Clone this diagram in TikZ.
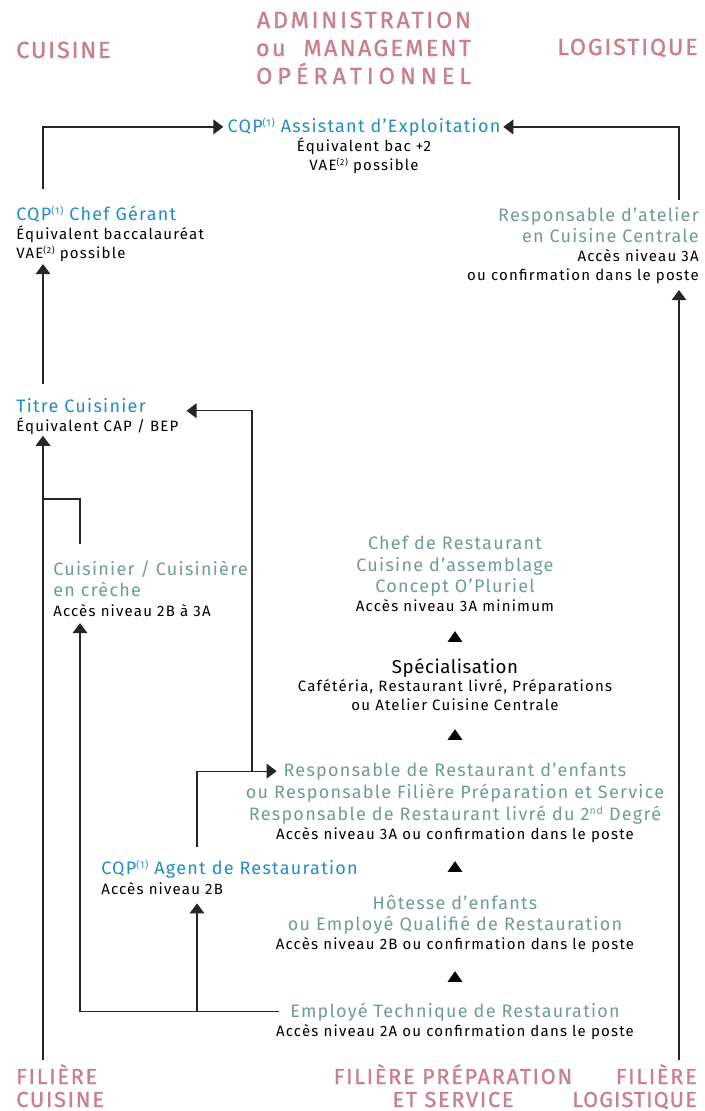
\documentclass[tikz,border=0pt]{standalone}
\usepackage{fontspec}
\setmainfont{Fira Sans}
\newfontfamily\headfam{Fira Sans}[FakeBold=1.2]
\usetikzlibrary{arrows.meta,positioning,shapes.geometric}

\definecolor{rosehd}{RGB}{201,128,140}
\definecolor{cqpblue}{RGB}{34,141,196}
\definecolor{sage}{RGB}{111,155,150}

\newcommand\headtxt[1][8]{\color{rosehd}\headfam\fontsize{17.5}{21}\selectfont\addfontfeatures{LetterSpace=#1}}
\newcommand\filtxt[1][8]{\color{rosehd}\headfam\fontsize{16.25}{17.25}\selectfont\addfontfeatures{LetterSpace=#1}}
\newcommand\bluetxt{\color{cqpblue}\fontsize{13.5}{14.25}\selectfont\addfontfeatures{LetterSpace=7}}
\newcommand\sagetxt{\color{sage}\fontsize{13.5}{14.25}\selectfont\addfontfeatures{LetterSpace=7}}
\newcommand\plaintxt{\color{black}\fontsize{11.25}{14.25}\selectfont\addfontfeatures{LetterSpace=8}}
\newcommand\refmark[1]{\raisebox{4pt}{\fontsize{7.5}{7.5}\selectfont(#1)}}
\newcommand\smallmark[1]{\raisebox{3.3pt}{\fontsize{6.5}{6.5}\selectfont(#1)}}

\begin{document}
\begin{tikzpicture}[x=0.75pt, y=-0.75pt,
    every node/.style={inner sep=0pt, font=\fontsize{11.25}{14.25}\selectfont},
    headnode/.style={font=\fontsize{17.5}{21}\selectfont},
    filnode/.style={font=\fontsize{16.25}{17.25}\selectfont},
    link/.style={draw=black!85, line width=0.9pt},
    arr/.style={link, -{Triangle[length=7.5pt,width=11pt]}},
    uptri/.style={isosceles triangle, isosceles triangle apex angle=70,
      shape border rotate=90, fill=black, minimum size=8pt}]
  \useasboundingbox (0,0) rectangle (704,1111);

  \node[headnode, anchor=base west] (cuisinehd) at (16,58) {\headtxt CUISINE};
  \node[headnode, anchor=base, align=right] (adminhd) at (363.5,84)
    {\headtxt[12] ADMINISTRATION\\\headtxt[10] ou\hspace{13.5pt}MANAGEMENT\\\headtxt[21.5] OPÉRATIONNEL};
  \node[headnode, anchor=base east] (logisthd) at (698,55) {\headtxt LOGISTIQUE};

  \node[anchor=base] (assistant) at (364,132)
    {\bluetxt CQP\refmark{1} Assistant d’Exploitation};
  \node[anchor=base, align=center] (assistantsub) at (364,170)
    {\plaintxt Équivalent bac +2\\\plaintxt VAE\smallmark{2} possible};

  \node[anchor=base west, align=left] (gerant) at (16,258)
    {\bluetxt CQP\refmark{1} Chef Gérant\\\plaintxt Équivalent baccalauréat\\\plaintxt VAE\smallmark{2} possible};
  \node[anchor=base east, align=right] (atelier) at (699,280)
    {\sagetxt Responsable d’atelier\\[1.5pt]\sagetxt en Cuisine Centrale\\\plaintxt Accès niveau 3A\\\plaintxt ou confirmation dans le poste};
  \node[anchor=base west, align=left] (titre) at (16,431)
    {\bluetxt Titre Cuisinier\\\plaintxt Équivalent CAP / BEP};
  \node[anchor=base west, align=left] (creche) at (53,616)
    {\sagetxt Cuisinier / Cuisinière\\[1.5pt]\sagetxt en crèche\\[0.75pt]\plaintxt Accès niveau 2B à 3A};

  \node[anchor=base, align=center] (chef) at (455,611)
    {\sagetxt Chef de Restaurant\\[1.75pt]\sagetxt Cuisine d’assemblage\\[1.5pt]\sagetxt Concept O’Pluriel\\\plaintxt Accès niveau 3A minimum};
  \node[uptri] (tri1) at (455,638) {};
  \node[anchor=base, align=center] (special) at (455,710)
    {\color{black}\fontsize{14}{14.25}\selectfont\addfontfeatures{LetterSpace=3}Spécialisation\\[-0.75pt]\plaintxt Cafétéria, Restaurant livré, Préparations\\\plaintxt ou Atelier Cuisine Centrale};
  \node[uptri] (tri2) at (455,736) {};
  \node[anchor=base] (resp1) at (455,776) {\sagetxt Responsable de Restaurant d’enfants};
  \node[anchor=base, align=center] (resp2) at (455,839)
    {\sagetxt ou Responsable Filière Préparation et Service\\[1.75pt]\sagetxt Responsable de Restaurant livré du 2\raisebox{4pt}{\fontsize{8}{8}\selectfont nd} Degré\\\plaintxt Accès niveau 3A ou confirmation dans le poste};
  \node[uptri] (tri3) at (455,868) {};
  \node[anchor=base west, align=left] (agent) at (101,894)
    {\bluetxt CQP\refmark{1} Agent de Restauration\\[0.75pt]\plaintxt Accès niveau 2B};
  \node[anchor=base, align=center] (hotesse) at (455,949)
    {\sagetxt Hôtesse d’enfants\\[1.5pt]\sagetxt ou Employé Qualifié de Restauration\\\plaintxt Accès niveau 2B ou confirmation dans le poste};
  \node[uptri] (tri4) at (455,978) {};
  \node[anchor=base] (employe) at (455,1017) {\sagetxt Employé Technique de Restauration};
  \node[anchor=base] (employesub) at (455,1036) {\plaintxt Accès niveau 2A ou confirmation dans le poste};

  \node[filnode, anchor=base west, align=left] (filcuisine) at (16,1107) {\filtxt FILIÈRE\\\filtxt CUISINE};
  \node[filnode, anchor=base, align=center] (filprep) at (453,1107) {\filtxt FILIÈRE PRÉPARATION\\\filtxt ET SERVICE};
  \node[filnode, anchor=base east, align=right] (fillog) at (697,1107) {\filtxt FILIÈRE\\\filtxt[5] LOGISTIQUE};

  \coordinate (colcuis) at (43,1060);
  \coordinate (collog) at (679,1060);
  \coordinate (colcreche) at (80,0 |- employe.west);
  \coordinate (colagent) at (197,0 |- employe.west);
  \coordinate (colresp) at (252,0 |- resp1.west);
  \coordinate (jcreche) at (43,499);

  \draw[arr, shorten <=12pt, shorten >=3pt] (gerant.north -| colcuis) |- (assistant.west);
  \draw[arr, shorten <=5pt, shorten >=2pt] (atelier.north -| collog) |- (assistant.east);
  \draw[arr, shorten <=10pt, shorten >=2pt] (titre.north -| colcuis) -- (gerant.south -| colcuis);
  \draw[arr, shorten >=1pt] (colcuis) -- (titre.south -| colcuis);
  \draw[arr, shorten >=5pt] (collog) -- (atelier.south -| collog);
  \draw[link, shorten <=12pt] (creche.north -| colcreche) |- (jcreche);
  \draw[arr, shorten >=5pt] (colcreche) -- (creche.south -| colcreche);
  \draw[link, shorten <=8pt] (employe.west) -- (colcreche);
  \draw[arr, shorten >=6.75pt] (colagent) -- (agent.south -| colagent);
  \draw[arr, shorten <=9.5pt, shorten >=5pt] (agent.north -| colagent) |- (resp1.west);
  \draw[arr, shorten >=6pt] (colresp) |- ([yshift=4pt]titre.east);
\end{tikzpicture}
\end{document}
